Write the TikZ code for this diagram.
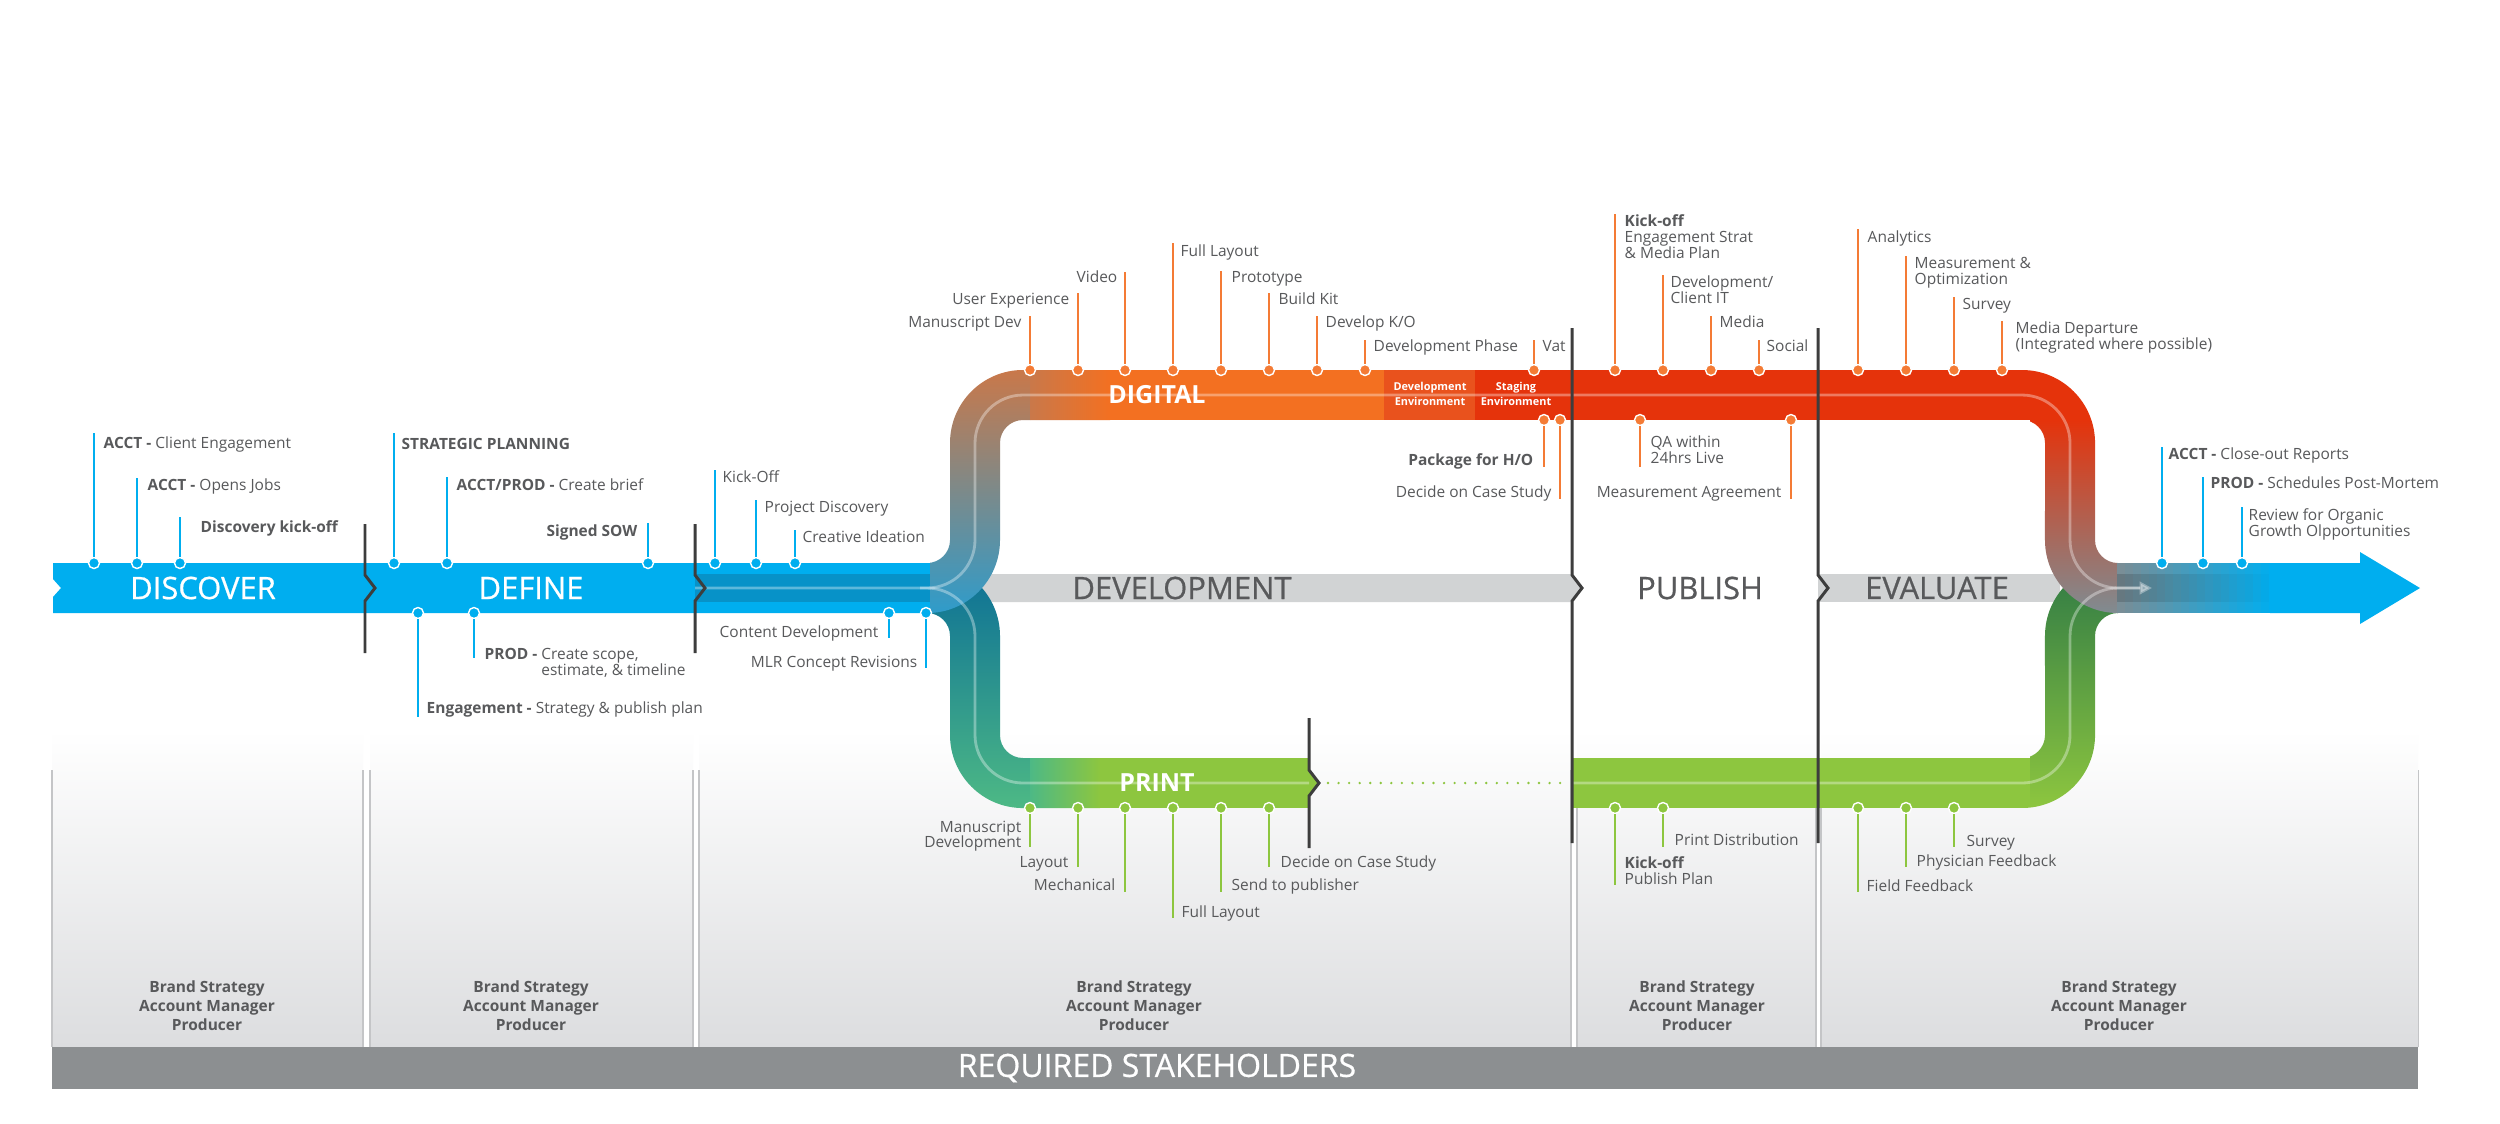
\documentclass[tikz,border=0pt]{standalone}
\usepackage{fontspec}
\setmainfont{Open Sans}
\newfontfamily\semifont[FakeBold=0.6]{Open Sans}
\usetikzlibrary{arrows.meta}

\definecolor{cBlue}{HTML}{00AEEF}
\definecolor{cBlueDk}{HTML}{0792C8}
\definecolor{cOrange}{HTML}{F37021}
\definecolor{cDevEnv}{HTML}{E9521D}
\definecolor{cRed}{HTML}{E5330B}
\definecolor{cRedBr}{HTML}{CC5A2A}
\definecolor{cBrown}{HTML}{C9784A}
\definecolor{cTubeGy}{HTML}{7D8D8F}
\definecolor{cTubeBl}{HTML}{2E9CCB}
\definecolor{cMergeGy}{HTML}{7F8C92}
\definecolor{cGreen}{HTML}{8DC63F}
\definecolor{cGreenDk}{HTML}{2F7A45}
\definecolor{cTealDk}{HTML}{0B6E96}
\definecolor{cTeal}{HTML}{1F979E}
\definecolor{cTealGn}{HTML}{4DB985}
\definecolor{cStemOr}{HTML}{F47B35}
\definecolor{cText}{HTML}{58595B}
\definecolor{cBandGy}{HTML}{D1D3D4}
\definecolor{cSep}{HTML}{3D3D3D}
\definecolor{cBar}{HTML}{8C8F91}
\definecolor{cPanel}{HTML}{DCDDDF}
\definecolor{cPanelLn}{HTML}{C4C5C7}

\tikzset{
  lbl/.style={font=\fontsize{4.4}{4.5}\selectfont, text=cText, inner sep=0pt},
  knob/.style={circle, inner sep=0pt, minimum size=0.11cm, draw=white, line width=0.4pt, fill=#1},
  bknob/.style={knob=cBlue},
  oknob/.style={knob=cStemOr},
  gknob/.style={knob=cGreen},
  stalk/.style={line width=0.55pt, draw=#1},
  bstalk/.style={stalk=cBlue},
  ostalk/.style={stalk=cStemOr},
  gstalk/.style={stalk=cGreen},
  phasesep/.style={draw=cSep, line width=0.85pt},
  phasetxt/.style={font=\semifont\fontsize{8.8}{9}\selectfont, text=cText, inner sep=0pt},
  tracktxt/.style={font=\fontsize{7.1}{7.5}\selectfont\bfseries, text=white, inner sep=0pt},
  envtxt/.style={font=\fontsize{3.1}{2.9}\selectfont\bfseries, text=white, align=center, inner sep=0pt},
  ptxt/.style={font=\fontsize{4.4}{5.4}\selectfont\bfseries, text=cText, align=center, inner sep=0pt},
  bartxt/.style={font=\semifont\fontsize{9.1}{10}\selectfont, text=white, inner sep=0pt},
  hilite/.style={draw=white, opacity=0.35, line width=0.8pt, rounded corners=0.48cm},
  dotline/.style={draw=cGreen, line width=0.75pt, line cap=round, dash pattern=on 0pt off 3pt},
}

\begin{document}
\begin{tikzpicture}[x=0.01cm, y=0.01cm]
\useasboundingbox (0,0) rectangle (2500,-1123);
\fill[white] (0,0) rectangle (2500,-1123);

% stakeholder panels
\shade[top color=white, bottom color=cPanel] (52,-730) rectangle (363,-1047); % Discover
\shade[top color=white, bottom color=cPanel] (370,-730) rectangle (693,-1047); % Define
\shade[top color=white, bottom color=cPanel] (699,-730) rectangle (1571,-1047); % Development
\shade[top color=white, bottom color=cPanel] (1577,-730) rectangle (1816,-1047); % Publish
\shade[top color=white, bottom color=cPanel] (1821,-730) rectangle (2418,-1047); % Evaluate
\draw[cPanelLn, line width=0.3pt] (52,-770) -- (52,-1047) (363,-770) -- (363,-1047) (370,-770) -- (370,-1047) (693,-770) -- (693,-1047) (699,-770) -- (699,-1047) (1571,-770) -- (1571,-1047) (1577,-770) -- (1577,-1047) (1816,-770) -- (1816,-1047) (1821,-770) -- (1821,-1047) (2418,-770) -- (2418,-1047);
\fill[cBar] (52,-1047) rectangle (2418,-1089);
\node[bartxt] (req) at (1157,-1068) {REQUIRED STAKEHOLDERS};
\node[ptxt] (sh1) at (207,-1006) {Brand Strategy\\Account Manager\\Producer};
\node[ptxt] (sh2) at (531,-1006) {Brand Strategy\\Account Manager\\Producer};
\node[ptxt] (sh3) at (1134,-1006) {Brand Strategy\\Account Manager\\Producer};
\node[ptxt] (sh4) at (1697,-1006) {Brand Strategy\\Account Manager\\Producer};
\node[ptxt] (sh5) at (2119,-1006) {Brand Strategy\\Account Manager\\Producer};

% grey phase band
\fill[cBandGy] (930,-574) -- (1572,-574) -- (1582,-588) -- (1572,-602) -- (930,-602) -- cycle;
\fill[cBandGy] (1818,-574) rectangle (2060,-602);

% main blue band
\fill[cBlue] (53,-563) -- (930,-563) -- (930,-613) -- (53,-613) -- (53,-597) -- (61,-588) -- (53,-579) -- cycle;
\fill[cBlueDk] (695,-574) rectangle (930,-602);

% print tube
\path[path picture={
  \shade[top color=cTealDk, middle color=cTeal, bottom color=cTealGn] (930,-563) rectangle (1030,-808);
  \shade[left color=cTealGn, right color=cGreen] (1030,-758) rectangle (1100,-808);
  \fill[cGreen] (1100,-758) rectangle (1309,-808);
  \fill[cGreen] (1572,-758) rectangle (2030,-808);
  \shade[top color=cGreenDk, middle color=cGreen, bottom color=cGreen] (2030,-563) rectangle (2125,-808);
}] (695,-613) -- (927,-613) arc[start angle=90, end angle=0, radius=0.23cm] -- (950,-735) arc[start angle=180, end angle=270, radius=0.73cm] -- (2022,-808) arc[start angle=270, end angle=360, radius=0.73cm] -- (2095,-636) arc[start angle=180, end angle=90, radius=0.23cm] -- (2118,-563) arc[start angle=90, end angle=180, radius=0.73cm] -- (2045,-735) arc[start angle=0, end angle=-90, radius=0.23cm] -- (1023,-758) arc[start angle=270, end angle=180, radius=0.23cm] -- (1000,-636) arc[start angle=0, end angle=90, radius=0.73cm] -- (695,-563) -- cycle;
\fill[cGreen] (1309,-770) -- (1319,-783) -- (1309,-796) -- cycle;

% digital tube
\path[path picture={
  \shade[top color=cBrown, middle color=cTubeGy, bottom color=cTubeBl] (930,-370) rectangle (1030,-614);
  \shade[left color=cBrown, right color=cOrange] (1030,-370) rectangle (1110,-420);
  \fill[cOrange] (1110,-370) rectangle (1384,-420);
  \fill[cDevEnv] (1384,-370) rectangle (1475,-420);
  \fill[cRed] (1475,-370) rectangle (2125,-420);
  \shade[top color=cRed, middle color=cRedBr, bottom color=cMergeGy] (2030,-420) rectangle (2125,-614);
}] (695,-563) -- (927,-563) arc[start angle=-90, end angle=0, radius=0.23cm] -- (950,-443) arc[start angle=180, end angle=90, radius=0.73cm] -- (2022,-370) arc[start angle=90, end angle=0, radius=0.73cm] -- (2095,-540) arc[start angle=180, end angle=270, radius=0.23cm] -- (2118,-613) arc[start angle=270, end angle=180, radius=0.73cm] -- (2045,-443) arc[start angle=0, end angle=90, radius=0.23cm] -- (1023,-420) arc[start angle=90, end angle=180, radius=0.23cm] -- (1000,-540) arc[start angle=0, end angle=-90, radius=0.73cm] -- (695,-613) -- cycle;

% outgoing arrow
\fill[cBlue] (2270,-563) -- (2360,-563) -- (2360,-552) -- (2420,-588) -- (2360,-624) -- (2360,-613) -- (2270,-613) -- cycle;
\foreach \i in {0,...,19} {
  \pgfmathtruncatemacro\p{\i*5+5}
  \pgfmathtruncatemacro\q{15-\i*3/4}
  \fill[cBlue!\p!cMergeGy] ({2117+\i*8},-563) rectangle ({2126+\i*8},-613);
  \fill[black, opacity=\q/100] ({2117+\i*8},-574) rectangle ({2126+\i*8},-602);
}

% tube highlights
\draw[hilite] (695,-588) -- (975,-588) -- (975,-395) -- (2070,-395) -- (2070,-588) -- (2140,-588);
\draw[hilite] (920,-588) -- (975,-588) -- (975,-783) -- (1309,-783);
\draw[hilite, -{Triangle[length=3.5pt, width=3.5pt]}] (1572,-783) -- (2070,-783) -- (2070,-588) -- (2152,-588);
\draw[dotline] (1328,-783) -- (1562,-783);

% phase separators
\draw[phasesep] (365,-524) -- (365,-575) -- (375,-588) -- (365,-601) -- (365,-653);
\draw[phasesep] (695,-524) -- (695,-575) -- (705,-588) -- (695,-601) -- (695,-653);
\draw[phasesep] (1309,-718) -- (1309,-770) -- (1319,-783) -- (1309,-796) -- (1309,-848);
\draw[phasesep] (1572,-328) -- (1572,-575) -- (1582,-588) -- (1572,-601) -- (1572,-843);
\draw[phasesep] (1818,-328) -- (1818,-575) -- (1828,-588) -- (1818,-601) -- (1818,-843);

% phase and track names
\node[phasetxt, text=white] (discover) at (203,-588) {DISCOVER};
\node[phasetxt, text=white] (define) at (531,-588) {DEFINE};
\node[phasetxt] (development) at (1182,-588) {DEVELOPMENT};
\node[phasetxt] (publish) at (1700,-588) {PUBLISH};
\node[phasetxt] (evaluate) at (1937,-588) {EVALUATE};
\node[tracktxt] (digital) at (1157,-395) {DIGITAL};
\node[tracktxt] (print) at (1157,-783) {PRINT};
\node[envtxt] (devenv) at (1430,-394) {Development\\Environment};
\node[envtxt] (stageenv) at (1516,-394) {Staging\\Environment};

% discover / define callouts
\node[bknob] (b1) at (94,-563) {}; \coordinate (b1e) at (94,-433); \draw[bstalk] (b1) -- (b1e);
\node[lbl, anchor=base west] (b1t) at (103,-448) {\textbf{ACCT -} Client Engagement};
\node[bknob] (b2) at (137,-563) {}; \coordinate (b2e) at (137,-478); \draw[bstalk] (b2) -- (b2e);
\node[lbl, anchor=base west] (b2t) at (147,-490) {\textbf{ACCT -} Opens Jobs};
\node[bknob] (b3) at (180,-563) {}; \coordinate (b3e) at (180,-517); \draw[bstalk] (b3) -- (b3e);
\node[lbl, anchor=base west] (b3t) at (200,-532) {\textbf{Discovery kick-off}};
\node[bknob] (b4) at (394,-563) {}; \coordinate (b4e) at (394,-433); \draw[bstalk] (b4) -- (b4e);
\node[lbl, anchor=base west] (b4t) at (401,-449) {\textbf{STRATEGIC PLANNING}};
\node[bknob] (b5) at (447,-563) {}; \coordinate (b5e) at (447,-477); \draw[bstalk] (b5) -- (b5e);
\node[lbl, anchor=base west] (b5t) at (456,-490) {\textbf{ACCT/PROD -} Create brief};
\node[bknob] (b6) at (648,-563) {}; \coordinate (b6e) at (648,-523); \draw[bstalk] (b6) -- (b6e);
\node[lbl, anchor=base east] (b6t) at (638,-536) {\textbf{Signed SOW}};
\node[bknob] (b7) at (418,-613) {}; \coordinate (b7e) at (418,-717); \draw[bstalk] (b7) -- (b7e);
\node[lbl, anchor=base west] (b7t) at (426,-713) {\textbf{Engagement -} Strategy \& publish plan};
\node[bknob] (b8) at (474,-613) {}; \coordinate (b8e) at (474,-658); \draw[bstalk] (b8) -- (b8e);
\node[lbl, anchor=base west] (b8t) at (484,-659) {\textbf{PROD -} \begin{tabular}[t]{@{}l@{}}Create scope,\\estimate, \& timeline\end{tabular}};
\node[bknob] (b9) at (715,-563) {}; \coordinate (b9e) at (715,-470); \draw[bstalk] (b9) -- (b9e);
\node[lbl, anchor=base west] (b9t) at (722,-482) {Kick-Off};
\node[bknob] (b10) at (756,-563) {}; \coordinate (b10e) at (756,-500); \draw[bstalk] (b10) -- (b10e);
\node[lbl, anchor=base west] (b10t) at (764,-512) {Project Discovery};
\node[bknob] (b11) at (795,-563) {}; \coordinate (b11e) at (795,-530); \draw[bstalk] (b11) -- (b11e);
\node[lbl, anchor=base west] (b11t) at (802,-542) {Creative Ideation};
\node[bknob] (b12) at (889,-613) {}; \coordinate (b12e) at (889,-638); \draw[bstalk] (b12) -- (b12e);
\node[lbl, anchor=base east] (b12t) at (879,-637) {Content Development};
\node[bknob] (b13) at (926,-613) {}; \coordinate (b13e) at (926,-668); \draw[bstalk] (b13) -- (b13e);
\node[lbl, anchor=base east] (b13t) at (918,-667) {MLR Concept Revisions};

% digital callouts
\node[oknob] (d1) at (1030,-370) {}; \coordinate (d1e) at (1030,-316); \draw[ostalk] (d1) -- (d1e);
\node[lbl, anchor=base east] (d1t) at (1022,-327) {Manuscript Dev};
\node[oknob] (d2) at (1078,-370) {}; \coordinate (d2e) at (1078,-293); \draw[ostalk] (d2) -- (d2e);
\node[lbl, anchor=base east] (d2t) at (1070,-304) {User Experience};
\node[oknob] (d3) at (1125,-370) {}; \coordinate (d3e) at (1125,-272); \draw[ostalk] (d3) -- (d3e);
\node[lbl, anchor=base east] (d3t) at (1118,-282) {Video};
\node[oknob] (d4) at (1173,-370) {}; \coordinate (d4e) at (1173,-243); \draw[ostalk] (d4) -- (d4e);
\node[lbl, anchor=base west] (d4t) at (1180,-256) {Full Layout};
\node[oknob] (d5) at (1221,-370) {}; \coordinate (d5e) at (1221,-271); \draw[ostalk] (d5) -- (d5e);
\node[lbl, anchor=base west] (d5t) at (1231,-282) {Prototype};
\node[oknob] (d6) at (1269,-370) {}; \coordinate (d6e) at (1269,-293); \draw[ostalk] (d6) -- (d6e);
\node[lbl, anchor=base west] (d6t) at (1278,-304) {Build Kit};
\node[oknob] (d7) at (1317,-370) {}; \coordinate (d7e) at (1317,-316); \draw[ostalk] (d7) -- (d7e);
\node[lbl, anchor=base west] (d7t) at (1325,-327) {Develop K/O};
\node[oknob] (d8) at (1365,-370) {}; \coordinate (d8e) at (1365,-340); \draw[ostalk] (d8) -- (d8e);
\node[lbl, anchor=base west] (d8t) at (1373,-351) {Development Phase};
\node[oknob] (d9) at (1534,-370) {}; \coordinate (d9e) at (1534,-340); \draw[ostalk] (d9) -- (d9e);
\node[lbl, anchor=base west] (d9t) at (1542,-351) {Vat};
\node[oknob] (d10) at (1615,-370) {}; \coordinate (d10e) at (1615,-214); \draw[ostalk] (d10) -- (d10e);
\node[lbl, anchor=north west, align=left] (d10t) at (1624,-214) {\textbf{Kick-off}\\Engagement Strat\\\& Media Plan};
\node[oknob] (d11) at (1663,-370) {}; \coordinate (d11e) at (1663,-275); \draw[ostalk] (d11) -- (d11e);
\node[lbl, anchor=north west, align=left] (d11t) at (1670,-275) {Development/\\Client IT};
\node[oknob] (d12) at (1711,-370) {}; \coordinate (d12e) at (1711,-316); \draw[ostalk] (d12) -- (d12e);
\node[lbl, anchor=base west] (d12t) at (1719,-327) {Media};
\node[oknob] (d13) at (1759,-370) {}; \coordinate (d13e) at (1759,-340); \draw[ostalk] (d13) -- (d13e);
\node[lbl, anchor=base west] (d13t) at (1766,-351) {Social};
\node[oknob] (d14) at (1858,-370) {}; \coordinate (d14e) at (1858,-229); \draw[ostalk] (d14) -- (d14e);
\node[lbl, anchor=base west] (d14t) at (1867,-242) {Analytics};
\node[oknob] (d15) at (1906,-370) {}; \coordinate (d15e) at (1906,-256); \draw[ostalk] (d15) -- (d15e);
\node[lbl, anchor=north west, align=left] (d15t) at (1914,-257) {Measurement \&\\Optimization};
\node[oknob] (d16) at (1954,-370) {}; \coordinate (d16e) at (1954,-297); \draw[ostalk] (d16) -- (d16e);
\node[lbl, anchor=base west] (d16t) at (1962,-309) {Survey};
\node[oknob] (d17) at (2002,-370) {}; \coordinate (d17e) at (2002,-321); \draw[ostalk] (d17) -- (d17e);
\node[lbl, anchor=north west, align=left] (d17t) at (2015,-321) {Media Departure\\(Integrated where possible)};
\node[oknob] (d18) at (1544,-420) {}; \coordinate (d18e) at (1544,-467); \draw[ostalk] (d18) -- (d18e);
\node[lbl, anchor=base east] (d18t) at (1534,-465) {\textbf{Package for H/O}};
\node[oknob] (d19) at (1560,-420) {}; \coordinate (d19e) at (1560,-499); \draw[ostalk] (d19) -- (d19e);
\node[lbl, anchor=base east] (d19t) at (1552,-497) {Decide on Case Study};
\node[oknob] (d20) at (1640,-420) {}; \coordinate (d20e) at (1640,-467); \draw[ostalk] (d20) -- (d20e);
\node[lbl, anchor=north west, align=left] (d20t) at (1650,-435) {QA within\\24hrs Live};
\node[oknob] (d21) at (1791,-420) {}; \coordinate (d21e) at (1791,-499); \draw[ostalk] (d21) -- (d21e);
\node[lbl, anchor=base east] (d21t) at (1782,-497) {Measurement Agreement};

% print callouts
\node[gknob] (p1) at (1030,-808) {}; \coordinate (p1e) at (1030,-847); \draw[gstalk] (p1) -- (p1e);
\node[lbl, anchor=north east, align=right] (p1t) at (1022,-820) {Manuscript\\Development};
\node[gknob] (p2) at (1078,-808) {}; \coordinate (p2e) at (1078,-867); \draw[gstalk] (p2) -- (p2e);
\node[lbl, anchor=base east] (p2t) at (1069,-867) {Layout};
\node[gknob] (p3) at (1125,-808) {}; \coordinate (p3e) at (1125,-892); \draw[gstalk] (p3) -- (p3e);
\node[lbl, anchor=base east] (p3t) at (1116,-890) {Mechanical};
\node[gknob] (p4) at (1173,-808) {}; \coordinate (p4e) at (1173,-918); \draw[gstalk] (p4) -- (p4e);
\node[lbl, anchor=base west] (p4t) at (1181,-917) {Full Layout};
\node[gknob] (p5) at (1221,-808) {}; \coordinate (p5e) at (1221,-892); \draw[gstalk] (p5) -- (p5e);
\node[lbl, anchor=base west] (p5t) at (1231,-890) {Send to publisher};
\node[gknob] (p6) at (1269,-808) {}; \coordinate (p6e) at (1269,-867); \draw[gstalk] (p6) -- (p6e);
\node[lbl, anchor=base west] (p6t) at (1280,-867) {Decide on Case Study};
\node[gknob] (p7) at (1615,-808) {}; \coordinate (p7e) at (1615,-885); \draw[gstalk] (p7) -- (p7e);
\node[lbl, anchor=north west, align=left] (p7t) at (1624,-856) {\textbf{Kick-off}\\Publish Plan};
\node[gknob] (p8) at (1663,-808) {}; \coordinate (p8e) at (1663,-847); \draw[gstalk] (p8) -- (p8e);
\node[lbl, anchor=base west] (p8t) at (1674,-845) {Print Distribution};
\node[gknob] (p9) at (1858,-808) {}; \coordinate (p9e) at (1858,-892); \draw[gstalk] (p9) -- (p9e);
\node[lbl, anchor=base west] (p9t) at (1866,-891) {Field Feedback};
\node[gknob] (p10) at (1906,-808) {}; \coordinate (p10e) at (1906,-867); \draw[gstalk] (p10) -- (p10e);
\node[lbl, anchor=base west] (p10t) at (1916,-866) {Physician Feedback};
\node[gknob] (p11) at (1954,-808) {}; \coordinate (p11e) at (1954,-847); \draw[gstalk] (p11) -- (p11e);
\node[lbl, anchor=base west] (p11t) at (1966,-846) {Survey};

% evaluate callouts
\node[bknob] (e1) at (2162,-563) {}; \coordinate (e1e) at (2162,-447); \draw[bstalk] (e1) -- (e1e);
\node[lbl, anchor=base west] (e1t) at (2168,-459) {\textbf{ACCT -} Close-out Reports};
\node[bknob] (e2) at (2203,-563) {}; \coordinate (e2e) at (2203,-477); \draw[bstalk] (e2) -- (e2e);
\node[lbl, anchor=base west] (e2t) at (2210,-488) {\textbf{PROD -} Schedules Post-Mortem};
\node[bknob] (e3) at (2242,-563) {}; \coordinate (e3e) at (2242,-507); \draw[bstalk] (e3) -- (e3e);
\node[lbl, anchor=north west, align=left] (e3t) at (2248,-508) {Review for Organic\\Growth Olpportunities};
\end{tikzpicture}
\end{document}
